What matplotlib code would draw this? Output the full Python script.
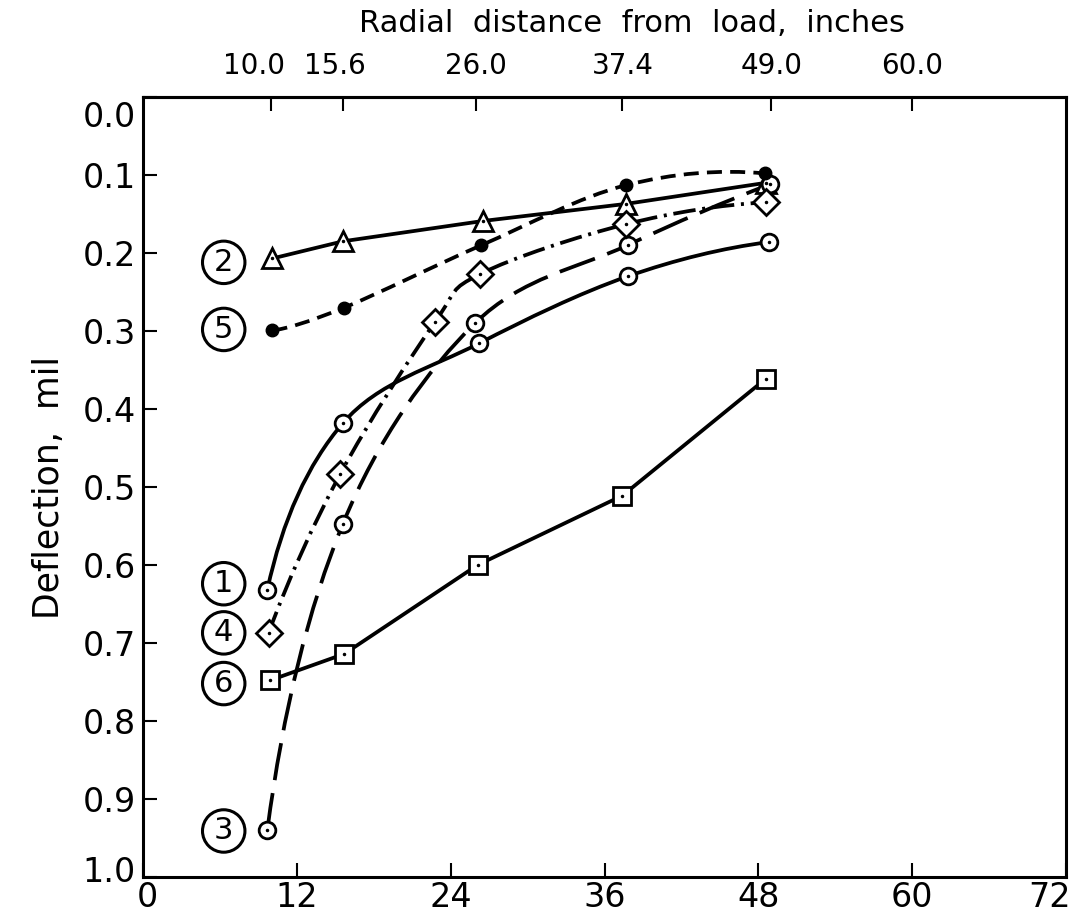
import numpy as np
import matplotlib
matplotlib.use("Agg")
import matplotlib.pyplot as plt
from matplotlib.path import Path
from matplotlib.patches import PathPatch
from matplotlib.transforms import ScaledTranslation

# values (x = radial distance, y = deflection in mil)
x1 = [9.7, 15.6, 26.2, 37.8, 48.8]
y1 = [0.632, 0.418, 0.316, 0.230, 0.186]
x2 = [10.1, 15.6, 26.5, 37.7, 48.6]
y2 = [0.207, 0.185, 0.159, 0.137, 0.110]
x3 = [9.7, 15.6, 25.9, 37.8, 48.9]
y3 = [0.940, 0.547, 0.290, 0.190, 0.112]
x4 = [9.8, 15.4, 22.8, 26.3, 37.7, 48.6]
y4 = [0.687, 0.483, 0.288, 0.227, 0.163, 0.135]
x5 = [10.1, 15.7, 26.4, 37.7, 48.5]
y5 = [0.299, 0.270, 0.190, 0.113, 0.098]
x6 = [9.9, 15.7, 26.1, 37.4, 48.6]
y6 = [0.748, 0.714, 0.600, 0.511, 0.361]

series_labels = ['1', '2', '3', '4', '5', '6']
label_y = [0.624, 0.212, 0.941, 0.687, 0.298, 0.752]

top_ticks = [10.0, 15.6, 26.0, 37.4, 49.0, 60.0]
top_labels = ['10.0', '15.6', '26.0', '37.4', '49.0', '60.0']
bottom_ticks = [0, 12, 24, 36, 48, 60, 72]
y_ticks = [0.0, 0.1, 0.2, 0.3, 0.4, 0.5, 0.6, 0.7, 0.8, 0.9, 1.0]


def smooth_path(x, y):
    # cubic bezier through the points (catmull-rom style tangents)
    pts = np.column_stack([x, y])
    n = len(pts)
    tang = np.zeros_like(pts)
    tang[1:-1] = (pts[2:] - pts[:-2]) / 2
    tang[0] = 2 * (pts[1] - pts[0]) - tang[1]
    tang[-1] = 2 * (pts[-1] - pts[-2]) - tang[-2]
    verts = [pts[0]]
    codes = [Path.MOVETO]
    for i in range(n - 1):
        verts += [pts[i] + tang[i] / 3, pts[i + 1] - tang[i + 1] / 3, pts[i + 1]]
        codes += [Path.CURVE4] * 3
    return Path(verts, codes)


fig = plt.figure(figsize=(10.74, 9.22), dpi=100)
ax = fig.add_axes([0.1331, 0.0488, 0.8595, 0.846])

lw = 2.7
styles = [
    (x1, y1, 'solid', 'o', True),
    (x2, y2, 'solid', '^', False),
    (x3, y3, (0, (10, 3.5)), 'o', True),
    (x4, y4, (0, (6, 1.8, 0.8, 1.8)), 'D', True),
    (x5, y5, (0, (4, 2.2)), 'filled', True),
    (x6, y6, 'solid', 's', False),
]

for xs, ys, ls, mk, smooth in styles:
    if smooth:
        patch = PathPatch(smooth_path(xs, ys), fill=False, edgecolor='black',
                          linewidth=lw, linestyle=ls, capstyle='butt', zorder=2)
        ax.add_patch(patch)
    else:
        ax.plot(xs, ys, color='black', lw=lw, ls=ls, zorder=2)
    if mk == 'filled':
        ax.plot(xs, ys, 'o', ms=9, color='black', zorder=4)
    else:
        ms = {'o': 12, '^': 14, 'D': 13, 's': 13}[mk]
        ax.plot(xs, ys, mk, ms=ms, mfc='white', mec='black', mew=2, zorder=4)
        ax.plot(xs, ys, '.', ms=3, color='black', zorder=5)

# circled series numbers
for lab, ly in zip(series_labels, label_y):
    ax.text(6.3, ly, lab, fontsize=22, ha='center', va='center', zorder=6,
            bbox=dict(boxstyle='circle,pad=0.22', fc='white', ec='black', lw=2.2))

ax.set_xlim(0, 72)
ax.set_ylim(1.0, 0.0)
ax.set_xticks(bottom_ticks)
ax.set_xticklabels([str(t) for t in bottom_ticks], fontsize=24)
ax.set_yticks(y_ticks)
ax.set_yticklabels([f'{t:.1f}' for t in y_ticks], fontsize=24)
ax.tick_params(axis='both', direction='in', length=10, width=1.5, pad=5)
ax.tick_params(axis='x', pad=3)

# nudge corner labels like the original
ylabs = ax.get_yticklabels()
ylabs[0].set_transform(ylabs[0].get_transform() + ScaledTranslation(0, -12 / 72, fig.dpi_scale_trans))
ylabs[-1].set_transform(ylabs[-1].get_transform() + ScaledTranslation(0, 6 / 72, fig.dpi_scale_trans))
xlabs = ax.get_xticklabels()
xlabs[0].set_transform(xlabs[0].get_transform() + ScaledTranslation(3 / 72, 0, fig.dpi_scale_trans))
xlabs[-1].set_transform(xlabs[-1].get_transform() + ScaledTranslation(-12 / 72, 0, fig.dpi_scale_trans))

top = ax.secondary_xaxis('top')
top.set_xticks(top_ticks)
top.set_xticklabels(top_labels, fontsize=20)
top.tick_params(direction='in', length=10, width=1.5, pad=12)
top.spines['top'].set_linewidth(2.2)
tlabs = top.get_xticklabels()
tlabs[0].set_transform(tlabs[0].get_transform() + ScaledTranslation(-12 / 72, 0, fig.dpi_scale_trans))
tlabs[1].set_transform(tlabs[1].get_transform() + ScaledTranslation(-6 / 72, 0, fig.dpi_scale_trans))

for sp in ax.spines.values():
    sp.set_linewidth(2.2)

ax.set_ylabel('Deflection,  mil', fontsize=25, labelpad=12)
fig.text(0.588, 0.975, 'Radial  distance  from  load,  inches', fontsize=22,
         ha='center', va='center')

fig.savefig('out.png', dpi=100)
